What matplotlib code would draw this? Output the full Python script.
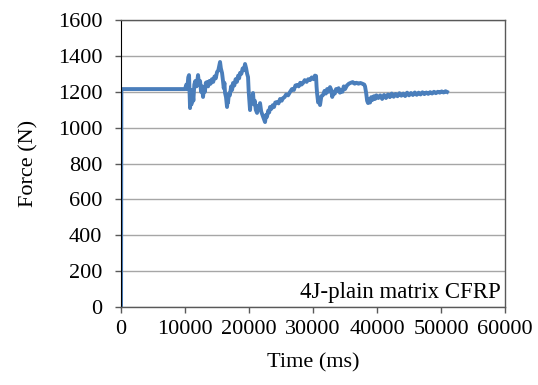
import numpy as np
import matplotlib
matplotlib.use('Agg')
import matplotlib.pyplot as plt

# 时间 (ms) 与力 (N)
time_ms = [0, 50, 300, 3000, 6000, 9000, 10000, 10200, 10350, 10500, 10625, 10700,
           10781, 10900, 11000, 11150, 11300, 11450, 11600, 11800, 12031, 12200,
           12350, 12500, 12650, 12812, 12950, 13100, 13250, 13437, 13600, 13800,
           14000, 14200, 14400, 14600, 14800, 15000, 15200, 15350, 15469, 15600,
           15781, 15900, 16050, 16150, 16250, 16400, 16562, 16650, 16719, 16850,
           17000, 17200, 17350, 17500, 17700, 17900, 18100, 18300, 18450, 18594,
           18800, 19000, 19200, 19375, 19550, 19700, 19844, 19950, 20050, 20156,
           20300, 20450, 20625, 20750, 20900, 21050, 21250, 21400, 21550, 21719,
           21900, 22100, 22300, 22500, 22650, 22800, 23000, 23150, 23281, 23500,
           23700, 23900, 24100, 24375, 24600, 24850, 25100, 25312, 25550, 25800,
           26100, 26406, 26700, 27000, 27250, 27500, 27750, 28000, 28200, 28437,
           28700, 29000, 29250, 29531, 29800, 30100, 30300, 30469, 30550, 30625,
           30800, 30950, 31094, 31300, 31562, 31800, 32000, 32200, 32400, 32656,
           32850, 33000, 33200, 33400, 33600, 33800, 34000, 34200, 34400, 34600,
           34800, 35000, 35300, 35600, 35900, 36200, 36500, 36800, 37100, 37400,
           37700, 38000, 38125, 38300, 38450, 38594, 38750, 38906, 39100, 39300,
           39500, 39700, 39900, 40200, 40500, 40800, 41100, 41400, 41700, 42000,
           42300, 42600, 42900, 43200, 43500, 43800, 44100, 44400, 44700, 45000,
           45300, 45600, 45900, 46200, 46500, 46800, 47100, 47400, 47700, 48000,
           48300, 48600, 48900, 49200, 49500, 49800, 50100, 50400, 50700, 50937]
force_n = [0, 1215, 1215, 1215, 1215, 1215, 1215, 1240, 1215, 1280, 1293, 1200,
           1109, 1180, 1130, 1210, 1150, 1240, 1260, 1230, 1293, 1240,
           1260, 1200, 1230, 1171, 1220, 1200, 1250, 1254, 1230, 1260,
           1245, 1270, 1255, 1285, 1275, 1310, 1320, 1345, 1366, 1330,
           1305, 1270, 1220, 1250, 1193, 1170, 1115, 1150, 1140, 1190,
           1180, 1230, 1210, 1249, 1235, 1270, 1255, 1290, 1275, 1305,
           1300, 1330, 1320, 1355, 1330, 1300, 1282, 1200, 1150, 1098,
           1170, 1140, 1193, 1130, 1150, 1100, 1082, 1120, 1110, 1137,
           1090, 1070, 1050, 1031, 1070, 1060, 1095, 1085, 1115, 1105,
           1125, 1115, 1140, 1143, 1135, 1160, 1150, 1165, 1170, 1185,
           1180, 1199, 1215, 1210, 1235, 1238, 1230, 1250, 1240, 1249,
           1265, 1255, 1270, 1265, 1280, 1270, 1290, 1288, 1230, 1193,
           1140, 1160, 1126, 1175, 1182, 1205, 1190, 1215, 1200, 1226,
           1210, 1171, 1200, 1190, 1215, 1205, 1220, 1195, 1210, 1200,
           1230, 1215, 1235, 1245, 1250, 1254, 1245, 1250, 1245, 1249,
           1245, 1240, 1230, 1193, 1150, 1137, 1160, 1140, 1170, 1155,
           1175, 1160, 1180, 1165, 1180, 1160, 1182, 1165, 1185, 1170,
           1190, 1172, 1188, 1175, 1192, 1178, 1190, 1176, 1195, 1180,
           1193, 1182, 1196, 1183, 1195, 1185, 1197, 1187, 1196, 1188,
           1198, 1190, 1200, 1192, 1200, 1195, 1202, 1196, 1203, 1199]

plt.rcParams['font.family'] = ['Liberation Serif', 'DejaVu Serif']

fig = plt.figure(figsize=(5.38, 3.85), dpi=100)
ax = fig.add_axes([0.225, 0.2026, 0.7137, 0.7454])

ax.plot(time_ms, force_n, color='#4a7ebb', linewidth=2.8)

ax.set_xlim(0, 60000)
ax.set_ylim(0, 1600)
ax.set_xticks(np.arange(0, 60001, 10000))
ax.set_yticks(np.arange(0, 1601, 200))
ax.grid(axis='y', color='#a6a6a6', linewidth=1.0)
ax.set_axisbelow(True)

for side in ['top', 'right', 'bottom']:
    ax.spines[side].set_color('#595959')
    ax.spines[side].set_linewidth(1.0)
ax.spines['left'].set_color('black')

ax.tick_params(direction='out', length=4.5, width=1, labelsize=16, color='#595959')
ax.tick_params(axis='y', pad=9)
ax.tick_params(axis='x', pad=5)

ax.set_xlabel('Time (ms)', fontsize=16, labelpad=10)
ax.set_ylabel('Force (N)', fontsize=16, labelpad=14)

ax.text(0.99, 0.015, '4J-plain matrix CFRP', transform=ax.transAxes,
        ha='right', va='bottom', fontsize=16.5,
        bbox=dict(facecolor='white', edgecolor='none', pad=1))

fig.savefig('out.png', dpi=100)
